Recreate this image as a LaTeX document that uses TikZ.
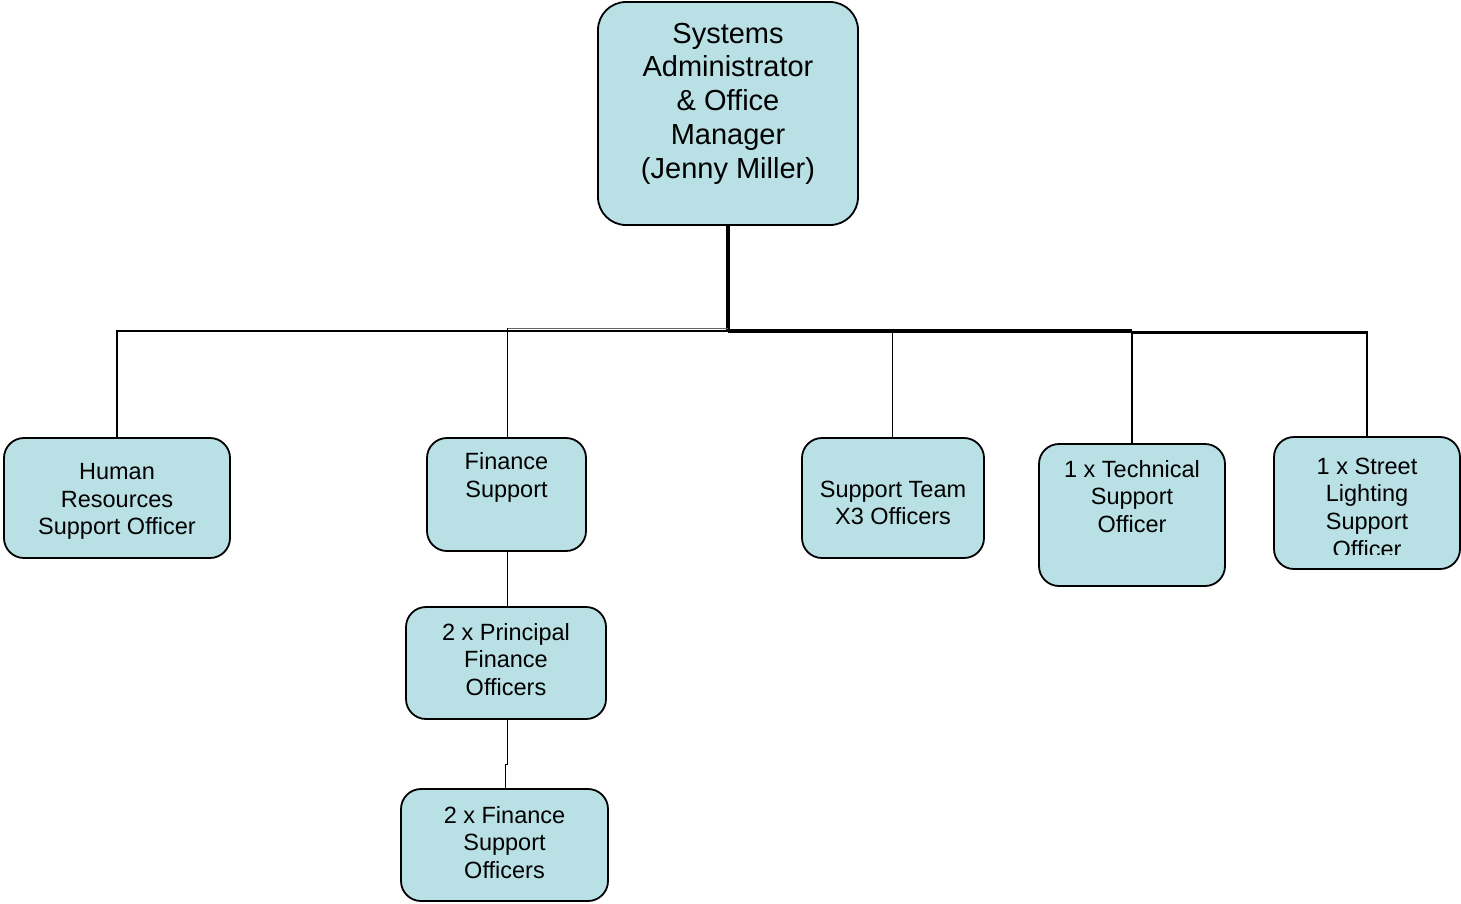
\documentclass[tikz,border=0pt]{standalone}
\usepackage{fontspec}
\setmainfont{Liberation Sans}
\definecolor{boxfill}{RGB}{185,224,228}
\begin{document}
\begin{tikzpicture}[x=1pt,y=-1pt,
  box/.style={draw=black, line width=1.8pt, fill=boxfill, rounded corners=20pt, inner sep=0pt},
  bigbox/.style={box, rounded corners=28pt},
  txt/.style={align=center, inner sep=0pt, font=\fontsize{23.5}{27.6}\selectfont},
  bigtxt/.style={align=center, inner sep=0pt, font=\fontsize{29}{33.8}\selectfont},
  link/.style={draw=black, line width=1pt},
  mid/.style={draw=black, line width=2.2pt},
  heavy/.style={draw=black, line width=3.2pt}]
\useasboundingbox (0,0) rectangle (1461,903);

% boxes
\node[bigbox, minimum width=260pt, minimum height=223pt] (top) at (728,113.5) {};
\node[bigtxt] (toptxt) at (728,103.5) {Systems\\Administrator\\\& Office\\Manager\\(Jenny Miller)};

\node[box, minimum width=226pt, minimum height=120pt] (hr) at (117,498) {};
\node[txt] (hrtxt) at (117,501.5) {Human\\Resources\\Support Officer};

\node[box, minimum width=159pt, minimum height=113pt] (fin) at (506.5,494.5) {};
\node[txt] (fintxt) at (506.5,477.5) {Finance\\Support};

\node[box, minimum width=182pt, minimum height=120pt] (sup) at (893,498) {};
\node[txt] (suptxt) at (893,503) {Support Team\\X3 Officers};

\node[box, minimum width=186pt, minimum height=142pt] (tech) at (1132,515) {};
\node[txt] (techtxt) at (1132,496.5) {1 x Technical\\Support\\Officer};

\node[box, minimum width=186pt, minimum height=132pt] (street) at (1367,503) {};
\begin{scope}
  \clip (1274,437) rectangle (1460,554);
  \node[txt] (streettxt) at (1367,507.5) {1 x Street\\Lighting\\Support\\Officer};
\end{scope}

\node[box, minimum width=200pt, minimum height=112pt] (pfo) at (506,663) {};
\node[txt] (pfotxt) at (506,659.5) {2 x Principal\\Finance\\Officers};

\node[box, minimum width=207pt, minimum height=112pt] (fso) at (504.5,845) {};
\node[txt] (fsotxt) at (504.5,842.5) {2 x Finance\\Support\\Officers};

% connector junctions
\coordinate (j) at (728,331);
\coordinate (jhr) at (117,331);
\coordinate (jfin) at (507,328);
\coordinate (jsup) at (892,331);
\coordinate (jtech) at (1132,331);
\coordinate (jstreet) at (1367,332.5);
\coordinate (kink) at (507,764);

% connectors
\draw[heavy] (top.south) -- (j);
\draw[link, line width=1.4pt] (j) -- (jhr) -- (hr.north -| jhr);
\draw[link, draw=black!60] (j |- jfin) -- (jfin);
\draw[link] (jfin) -- (fin.north -| jfin);
\draw[link] (jsup) -- (sup.north -| jsup);
\draw[heavy] (j) -- (jtech);
\draw[mid] (jtech |- jstreet) -- (jstreet) -- (street.north -| jstreet);
\draw[mid] (jtech) -- (tech.north -| jtech);
\draw[link] (fin.south -| jfin) -- (pfo.north -| jfin);
\draw[link] (pfo.south -| kink) -- (kink) -- ++(-2,0) |- (fso.north);
\end{tikzpicture}
\end{document}
